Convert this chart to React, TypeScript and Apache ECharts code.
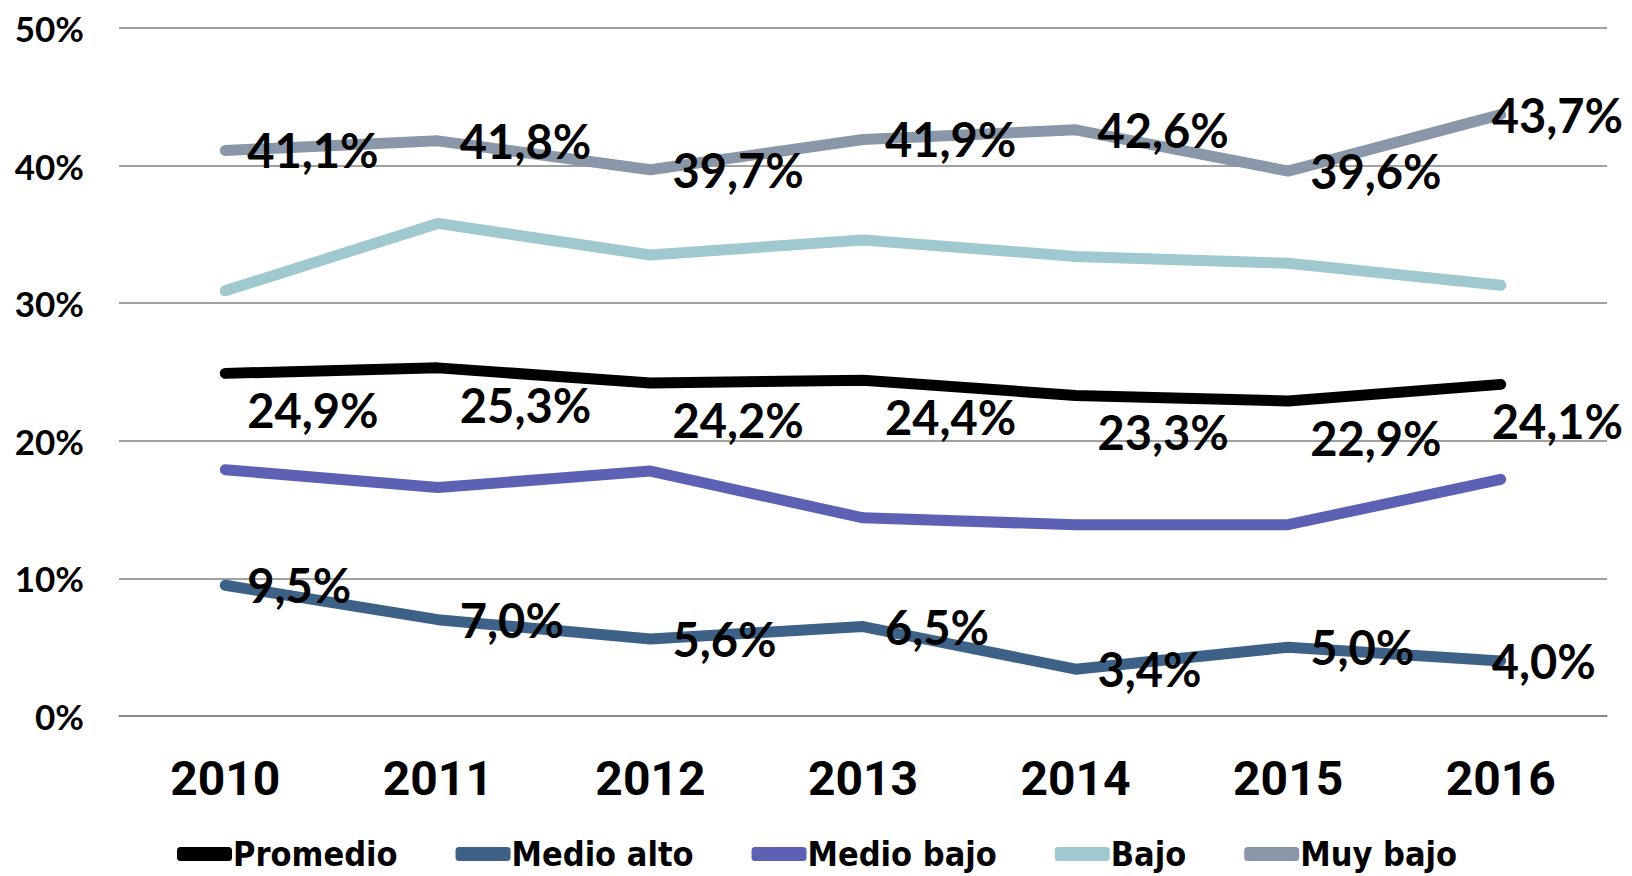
import React, { useEffect, useRef } from "react";
import * as echarts from "echarts";

const years = ["2010", "2011", "2012", "2013", "2014", "2015", "2016"];
const promedio = [24.9, 25.3, 24.2, 24.4, 23.3, 22.9, 24.1];
const medioAlto = [9.5, 7.0, 5.6, 6.5, 3.4, 5.0, 4.0];
const medioBajo = [17.9, 16.6, 17.8, 14.4, 13.9, 13.9, 17.2];
const bajo = [30.9, 35.8, 33.5, 34.6, 33.4, 32.9, 31.3];
const muyBajo = [41.1, 41.8, 39.7, 41.9, 42.6, 39.6, 43.7];
const yTicks = [0, 10, 20, 30, 40, 50];

const fmt = (v: number) => v.toFixed(1).replace(".", ",") + "%";

export default function App() {
  const ref = useRef<HTMLDivElement>(null);
  useEffect(() => {
    const chart = echarts.init(ref.current!, null, { renderer: "svg" });
    const labelFont = {
      fontFamily: "Lato",
      fontWeight: "bold" as const,
      fontSize: 47,
      color: "#000",
    };
    const mk = (
      name: string,
      values: number[],
      color: string,
      labelled: boolean,
      dy: number
    ) => ({
      name,
      type: "line",
      data: values,
      symbol: "circle",
      symbolSize: 0,
      showSymbol: true,
      smooth: false,
      lineStyle: { color, width: 11, cap: "round", join: "round" },
      itemStyle: { color },
      label: labelled
        ? {
            show: true,
            position: "right",
            distance: 22,
            formatter: (p: any) => fmt(p.value),
            ...labelFont,
          }
        : { show: false },
      labelLayout: (p: any) => ({
        hideOverlap: false,
        dx: p.dataIndex === values.length - 1 ? -31 : 0,
        dy,
      }),
      z: 2,
    });
    chart.setOption({
      animation: false,
      backgroundColor: "#fff",
      grid: { left: 119, top: 28, width: 1488, height: 688, containLabel: false },
      xAxis: {
        type: "category",
        data: years,
        boundaryGap: true,
        axisLine: { show: true, lineStyle: { color: "#808080", width: 1.5 } },
        axisTick: { show: false },
        axisLabel: {
          margin: 38,
          fontFamily: "Roboto",
          fontWeight: "bold",
          fontSize: 48,
          color: "#000",
        },
      },
      yAxis: {
        type: "value",
        min: yTicks[0],
        max: yTicks[yTicks.length - 1],
        interval: 10,
        axisLine: { show: false },
        axisTick: { show: false },
        splitLine: { lineStyle: { color: "#808080", width: 1.5 } },
        axisLabel: {
          margin: 35,
          formatter: (v: number) => v + "%",
          fontFamily: "Lato",
          fontWeight: "bold",
          fontSize: 35,
          color: "#000",
        },
      },
      legend: {
        bottom: 0,
        left: 172,
        icon: "roundRect",
        itemWidth: 55,
        itemHeight: 14,
        itemGap: 58,
        textStyle: {
          fontFamily: "DejaVu Sans Condensed",
          fontWeight: "bold",
          fontSize: 34,
          color: "#000",
          padding: [0, 0, 0, -4],
        },
        data: ["Promedio", "Medio alto", "Medio bajo", "Bajo", "Muy bajo"],
      },
      series: [
        mk("Promedio", promedio, "#000000", true, 37),
        mk("Medio alto", medioAlto, "#3e6187", true, 0),
        mk("Medio bajo", medioBajo, "#5d61b4", false, 0),
        mk("Bajo", bajo, "#9fc8cf", false, 0),
        mk("Muy bajo", muyBajo, "#8a97a9", true, 0),
      ],
    });
    return () => chart.dispose();
  }, []);
  return (
    <div
      ref={ref}
      style={{ position: "fixed", left: 0, top: 0, width: 1632, height: 876 }}
    />
  );
}
